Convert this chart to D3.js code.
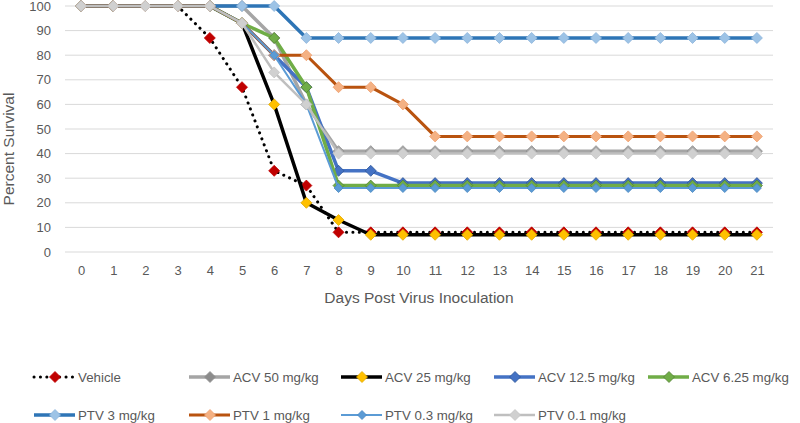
<!DOCTYPE html>
<html><head><meta charset="utf-8">
<script src="https://cdn.jsdelivr.net/npm/d3@7"></script>
<style>body{margin:0;background:#fff}svg{display:block}text{font-family:"Liberation Sans",Arial,sans-serif;fill:#595959}</style>
</head><body><svg id="c" width="800" height="423"></svg>
<script>
const days = d3.range(0, 22);
const yTicks = [0,10,20,30,40,50,60,70,80,90,100];
const seriesNames = ["Vehicle","ACV 50 mg/kg","ACV 25 mg/kg","ACV 12.5 mg/kg","ACV 6.25 mg/kg","PTV 3 mg/kg","PTV 1 mg/kg","PTV 0.3 mg/kg","PTV 0.1 mg/kg"];
const vehicle = [100,100,100,100,87,67,33,27,8,8,8,8,8,8,8,8,8,8,8,8,8,8];
const acv50   = [100,100,100,100,100,100,87,60,41,41,41,41,41,41,41,41,41,41,41,41,41,41];
const acv25   = [100,100,100,100,100,93,60,20,13,7,7,7,7,7,7,7,7,7,7,7,7,7];
const acv125  = [100,100,100,100,100,93,80,67,33,33,28,28,28,28,28,28,28,28,28,28,28,28];
const acv625  = [100,100,100,100,100,93,87,67,27,27,27,27,27,27,27,27,27,27,27,27,27,27];
const ptv3    = [100,100,100,100,100,100,100,87,87,87,87,87,87,87,87,87,87,87,87,87,87,87];
const ptv1    = [100,100,100,100,100,93,80,80,67,67,60,47,47,47,47,47,47,47,47,47,47,47];
const ptv03   = [100,100,100,100,100,93,80,60,26,26,26,26,26,26,26,26,26,26,26,26,26,26];
const ptv01   = [100,100,100,100,100,93,73,60,40,40,40,40,40,40,40,40,40,40,40,40,40,40];
const seriesValues = [vehicle,acv50,acv25,acv125,acv625,ptv3,ptv1,ptv03,ptv01];

const styles = [
  {line:"#000000", w:3, dash:"0.1 6.3", cap:"round", mk:"#C00000", mks:"#C00000", r:5.5},
  {line:"#A5A5A5", w:3.5, mk:"#A5A5A5", mks:"#8F8F8F", r:5.5},
  {line:"#000000", w:3.5, mk:"#FFC000", mks:"#E0A800", r:5.5},
  {line:"#4472C4", w:3.5, mk:"#4472C4", mks:"#2F5597", r:5.5},
  {line:"#70AD47", w:3.5, mk:"#70AD47", mks:"#548235", r:5.5},
  {line:"#2E75B6", w:3.5, mk:"#9DC3E6", mks:"#8DB4DA", r:5.5},
  {line:"#B9530F", w:3, mk:"#F4B183", mks:"#EFA070", r:5.5},
  {line:"#5B9BD5", w:2, mk:"#5B9BD5", mks:"#4A86C0", r:4.5},
  {line:"#BFBFBF", w:2.5, mk:"#D0D0D0", mks:"#C4C4C4", r:5.5}
];

const svg = d3.select("#c");
const x = d3.scaleLinear().domain([-0.5, 21.5]).range([65, 773]);
const y = d3.scaleLinear().domain([0, 100]).range([252, 6]);

// gridlines
svg.append("g").selectAll("line").data(yTicks).join("line")
  .attr("x1", x(-0.5)).attr("x2", x(21.5))
  .attr("y1", d => y(d)).attr("y2", d => y(d))
  .attr("stroke", "#D9D9D9").attr("stroke-width", 1);

// y axis
const ya = svg.append("g").attr("transform", `translate(${x(-0.5)},0)`)
  .call(d3.axisLeft(y).tickValues(yTicks).tickSize(0).tickPadding(14));
ya.select(".domain").remove();
ya.selectAll("text").style("font-size", "13px").attr("fill", "#595959").style("font-family", '"Liberation Sans",Arial,sans-serif');

// x axis
const xa = svg.append("g").attr("transform", `translate(0,${y(0)})`)
  .call(d3.axisBottom(x).tickValues(days).tickFormat(d3.format("d")).tickSize(0).tickPadding(14));
xa.select(".domain").remove();
xa.selectAll("text").style("font-size", "13px").attr("fill", "#595959").style("font-family", '"Liberation Sans",Arial,sans-serif');

// titles
svg.append("text").attr("transform", "translate(14,149) rotate(-90)")
  .attr("text-anchor", "middle").style("font-size", "15.5px").text("Percent Survival");
svg.append("text").attr("x", 419).attr("y", 303)
  .attr("text-anchor", "middle").style("font-size", "15.5px").text("Days Post Virus Inoculation");

const diamond = {draw(ctx, size){ const r = Math.sqrt(size); ctx.moveTo(0,-r); ctx.lineTo(r,0); ctx.lineTo(0,r); ctx.lineTo(-r,0); ctx.closePath(); }};
const line = d3.line().x((d,i) => x(days[i])).y(d => y(d));

seriesValues.forEach((vals, k) => {
  const s = styles[k];
  const g = svg.append("g");
  g.append("path").attr("d", line(vals)).attr("fill", "none")
    .attr("stroke", s.line).attr("stroke-width", s.w)
    .attr("stroke-linecap", s.cap || "butt").attr("stroke-linejoin", "round")
    .attr("stroke-dasharray", s.dash || null);
  g.selectAll("path.m").data(vals).join("path").attr("class", "m")
    .attr("d", d3.symbol(diamond, s.r * s.r))
    .attr("transform", (d,i) => `translate(${x(days[i])},${y(d)})`)
    .attr("fill", s.mk).attr("stroke", s.mks).attr("stroke-width", 0.8);
});

// legend
const legPos = [
  [33,377],[188,377],[340,377],[493,377],[647,377],
  [33,415],[188,415],[340,415],[493,415]
];
seriesNames.forEach((name, k) => {
  const s = styles[k];
  const [lx, ly] = legPos[k];
  const g = svg.append("g").attr("transform", `translate(${lx},${ly})`);
  g.append("line").attr("x1", 1).attr("x2", 42).attr("y1", 0).attr("y2", 0)
    .attr("stroke", s.line).attr("stroke-width", s.w)
    .attr("stroke-linecap", s.cap || "butt")
    .attr("stroke-dasharray", s.dash || null);
  g.append("path").attr("d", d3.symbol(diamond, s.r * s.r))
    .attr("transform", "translate(22,0)")
    .attr("fill", k === 1 ? "#8C8C8C" : s.mk).attr("stroke", s.mks).attr("stroke-width", 0.8);
  g.append("text").attr("x", 45).attr("y", 5).style("font-size", "13.3px").text(name);
});
</script></body></html>
